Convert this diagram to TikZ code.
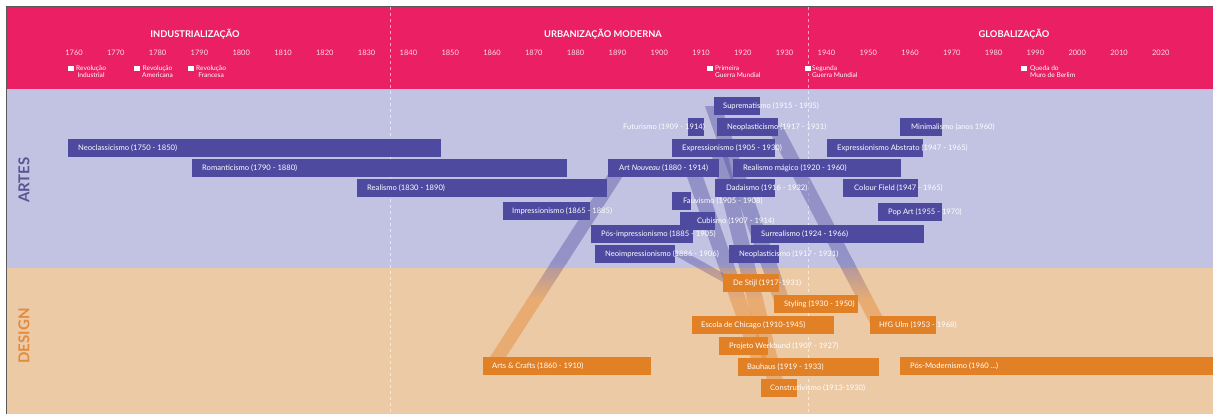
\documentclass[tikz,border=0pt]{standalone}
\usepackage{fontspec}
\setmainfont{Lato}
\usepackage{tikz}
\usetikzlibrary{positioning,calc}
\definecolor{headpink}{RGB}{234,31,100}
\definecolor{artbg}{RGB}{194,194,226}
\definecolor{desbg}{RGB}{236,202,166}
\definecolor{artfill}{RGB}{78,74,160}
\definecolor{desfill}{RGB}{226,128,38}
\definecolor{artlabel}{RGB}{88,86,146}
\definecolor{deslabel}{RGB}{226,140,62}
\pgfdeclarelayer{back}
\pgfdeclarelayer{mid}
\pgfsetlayers{back,mid,main}
% bar: name, left, right, top, text start, text
\newcommand{\artbar}[6]{%
  \node[artbox, minimum width={#3pt-#2pt}] (#1) at (#2,#4) {};
  \node[bartext] (#1-t) at (#5,#4+9) {#6};}
\newcommand{\desbar}[6]{%
  \node[desbox, minimum width={#3pt-#2pt}] (#1) at (#2,#4) {};
  \node[bartext] (#1-t) at (#5,#4+9) {#6};}
% ribbon from one bar to another, purple above the border, orange below
\newcommand{\ribbon}[4]{%
  \begin{scope}[ribbongroup]
  \clip ($(#1.west)+(#2,0)$) -- ++(16,0)
    -- ($(#3.west)+(#4+16,0)$) -- ($(#3.west)+(#4,0)$) -- cycle;
  \fill[artfill] (0,0) rectangle (1213,264);
  \shade[top color=artfill,bottom color=desfill] (0,262) rectangle (1213,300);
  \fill[desfill] (0,298) rectangle (1213,414);
  \end{scope}}

\begin{document}
\begin{tikzpicture}[x=1pt,y=-1pt,
	artbox/.style={rectangle,fill=artfill,anchor=north west,minimum height=18pt,inner sep=0pt},
	desbox/.style={rectangle,fill=desfill,anchor=north west,minimum height=18pt,inner sep=0pt},
	bartext/.style={anchor=west,inner sep=0pt,text=white,font=\fontsize{7.6}{8}\selectfont},
	yearlbl/.style={text=white,opacity=.85,font=\fontsize{7.5}{8}\selectfont},
	eralbl/.style={text=white,font=\bfseries\fontsize{9.3}{10}\selectfont},
	eventlbl/.style={text=white,anchor=north west,inner sep=0pt,align=left,font=\fontsize{6.6}{7.4}\selectfont},
	evmark/.style={fill=white,minimum size=5.5pt,inner sep=0pt,anchor=north west},
	ribbongroup/.style={transparency group,opacity=.4},
	sidelbl/.style={rotate=90,font=\bfseries\fontsize{15}{16}\selectfont}
]
\useasboundingbox (0,0) rectangle (1213,414);

\begin{pgfonlayer}{back}
\fill[white] (0,0) rectangle (1213,414);
\fill[headpink] (6,7) rectangle (1213,89);
\fill[artbg] (6,89) rectangle (1213,268);
\fill[desbg] (6,268) rectangle (1213,414);
\draw[gray!70!black,line width=1pt] (6,414) -- (6,7) -- (1213,7);
\draw[white,opacity=.6,dashed,line width=.8pt] (390,7) -- (390,414);
\draw[white,opacity=.6,dashed,line width=.8pt] (808,7) -- (808,414);
\end{pgfonlayer}

% eras and years
\node[eralbl] (ind) at (195,34) {INDUSTRIALIZAÇÃO};
\node[eralbl] (urb) at (603,34) {URBANIZAÇÃO MODERNA};
\node[eralbl] (glo) at (1014,34) {GLOBALIZAÇÃO};
\foreach \yr [count=\i from 0] in {1760,1770,...,2020}
  \node[yearlbl] (y\yr) at (74+41.8*\i,53) {\yr};

% events
\node[evmark] (e1) at (68,65.5) {};
\node[eventlbl,align=center] (e1-t) at (76,65) {Revolução\\Industrial};
\node[evmark] (e2) at (134,65.5) {};
\node[eventlbl,align=center] (e2-t) at (142,65) {Revolução\\Americana};
\node[evmark] (e3) at (188,65.5) {};
\node[eventlbl,align=center] (e3-t) at (196,65) {Revolução\\Francesa};
\node[evmark] (e4) at (707,65.5) {};
\node[eventlbl] (e4-t) at (715,65) {Primeira\\Guerra Mundial};
\node[evmark] (e5) at (805,65.5) {};
\node[eventlbl] (e5-t) at (812,65) {Segunda\\Guerra Mundial};
\node[evmark] (e6) at (1021,65.5) {};
\node[eventlbl] (e6-t) at (1030,65) {Queda do\\Muro de Berlim};

% side labels
\node[sidelbl,text=artlabel] (artes) at (24,180) {ARTES};
\node[sidelbl,text=deslabel] (design) at (24,336) {DESIGN};

% artes
\artbar{supre}{714}{760}{97}{723}{Suprematismo (1915 - 1935)}
\artbar{futur}{688}{704}{118}{623}{Futurismo (1909 - 1914)}
\artbar{neopl}{717}{778}{118}{727}{Neoplasticismo (1917 - 1931)}
\artbar{minim}{900}{942}{118}{911}{Minimalismo (anos 1960)}
\artbar{neocl}{68}{441}{139}{78}{Neoclassicismo (1750 - 1850)}
\artbar{expre}{672}{775}{139}{682}{Expressionismo (1905 - 1930)}
\artbar{expab}{827}{923}{139}{837}{Expressionismo Abstrato (1947 - 1965)}
\artbar{roman}{192}{567}{159}{202}{Romanticismo (1790 - 1880)}
\artbar{artno}{608}{719}{159}{619}{Art \textit{Nouveau} (1880 - 1914)}
\artbar{realm}{733}{901}{159}{743}{Realismo mágico (1920 - 1960)}
\artbar{reali}{357}{607}{179}{367}{Realismo (1830 - 1890)}
\artbar{dadai}{715}{775}{179}{726}{Dadaismo (1916 - 1922)}
\artbar{colfi}{843}{918}{179}{854}{Colour Field (1947 - 1965)}
\artbar{fauvi}{672}{691}{192}{683}{Fauvismo (1905 - 1908)}
\artbar{impre}{503}{590}{202}{512}{Impressionismo (1865 - 1885)}
\artbar{popar}{878}{942}{203}{888}{Pop Art (1955 - 1970)}
\artbar{cubis}{680}{715}{212}{697}{Cubismo (1907 - 1914)}
\artbar{posim}{591}{693}{225}{601}{Pós-impressionismo (1885 - 1905)}
\artbar{surre}{751}{924}{225}{761}{Surrealismo (1924 - 1966)}
\artbar{neoim}{595}{675}{245}{605}{Neoimpressionismo (1886 - 1906)}
\artbar{neopb}{729}{779}{245}{739}{Neoplasticismo (1917 - 1931)}

% design
\desbar{destj}{723}{779}{274}{733}{De Stijl (1917-1931)}
\desbar{styli}{774}{858}{295}{784}{Styling (1930 - 1950)}
\desbar{chica}{692}{834}{316}{701}{Escola de Chicago (1910-1945)}
\desbar{hfgul}{870}{936}{316}{879}{HfG Ulm (1953 - 1968)}
\desbar{werkb}{719}{768}{337}{729}{Projeto Werkbund (1907 - 1927)}
\desbar{craft}{483}{651}{357}{492}{Arts \& Crafts (1860 - 1910)}
\desbar{bauha}{738}{879}{358}{747}{Bauhaus (1919 - 1933)}
\desbar{posmo}{900}{1213}{357}{910}{Pós-Modernismo (1960 ...)}
\desbar{const}{761}{797}{379}{770}{Construtivismo (1913-1930)}

% ribbons
\begin{pgfonlayer}{mid}
\ribbon{artno}{4}{craft}{1}
\ribbon{neopl}{50}{hfgul}{1}
\ribbon{supre}{-9}{styli}{1}
\ribbon{artno}{76}{bauha}{16}
\ribbon{expre}{38}{const}{8}
\ribbon{neoim}{78}{destj}{2}
\end{pgfonlayer}
\end{tikzpicture}
\end{document}
